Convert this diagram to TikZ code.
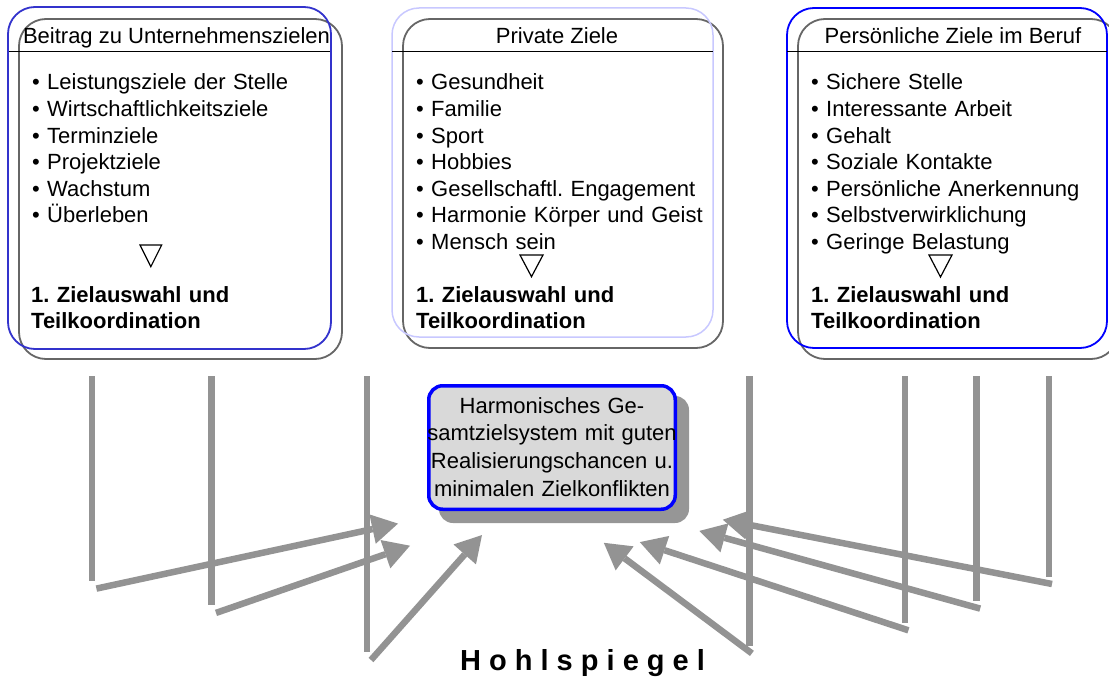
\documentclass[tikz,border=0pt]{standalone}
\usepackage{fontspec}
\setmainfont{Liberation Sans}
\usetikzlibrary{arrows.meta}
\frenchspacing
\definecolor{boxblueA}{RGB}{51,51,204}
\definecolor{boxblueC}{RGB}{0,0,255}
\definecolor{lav}{RGB}{200,200,255}
\definecolor{edgegray}{RGB}{102,102,102}
\definecolor{beamgray}{RGB}{147,147,147}
\definecolor{cfill}{RGB}{217,217,217}
\definecolor{cshadow}{RGB}{150,150,150}
\begin{document}
\begin{tikzpicture}[x=1pt,y=-1pt,
  frame/.style={rounded corners=27pt, inner sep=0pt, outer sep=0pt, line width=1.8pt},
  hdrline/.style={draw=black, line width=1.4pt},
  hdrtext/.style={anchor=base, inner sep=0pt, font=\fontsize{22}{26.6}\selectfont},
  itemlist/.style={anchor=base west, inner sep=0pt, text width=320pt, align=left, font=\fontsize{22}{26.6}\selectfont},
  boldlist/.style={anchor=base west, inner sep=0pt, text width=320pt, align=left, font=\fontsize{22}{26}\selectfont\bfseries},
  tri/.style={draw=black, line width=1.2pt, line join=miter},
  beam/.style={draw=beamgray, line width=6.5pt},
  beamarrow/.style={beam, -{Triangle[length=26pt,width=30pt,line width=0pt]}}
]
\useasboundingbox (0,0) rectangle (1109,677);
\clip (0,0) rectangle (1109,677);

% ---------- Box 1 ----------
\node[frame, draw=edgegray, minimum width=323pt, minimum height=340pt] (b1g) at (180.5,189) {};
\node[frame, draw=boxblueA, minimum width=323pt, minimum height=342pt] (b1) at (169.5,178) {};
\draw[hdrline] (9,51.7) -- (330,51.7);
\node[hdrtext] (h1) at (176.5,43.5) {Beitrag zu Unternehmenszielen};
\node[itemlist] (l1) at (32,90) {• Leistungsziele der Stelle\\• Wirtschaftlichkeitsziele\\• Terminziele\\• Projektziele\\• Wachstum\\• Überleben};
\draw[tri] (140,245) -- (161.7,245) -- (150.85,266.7) -- cycle;
\node[boldlist] (z1) at (31,302) {1. Zielauswahl und\\Teilkoordination};

% ---------- Box 2 ----------
\node[frame, draw=edgegray, minimum width=320pt, minimum height=329pt] (b2g) at (563,183.5) {};
\node[frame, draw=lav, line width=1.5pt, minimum width=321pt, minimum height=329pt] (b2) at (552.5,172.5) {};
\draw[hdrline] (392,51.7) -- (713,51.7);
\node[hdrtext] (h2) at (557,43.5) {Private Ziele};
\node[itemlist] (l2) at (416,90) {• Gesundheit\\• Familie\\• Sport\\• Hobbies\\• Gesellschaftl. Engagement\\• Harmonie Körper und Geist\\• Mensch sein};
\draw[tri] (520,255) -- (543,255) -- (531.5,276.7) -- cycle;
\node[boldlist] (z2) at (416,302) {1. Zielauswahl und\\Teilkoordination};

% ---------- Box 3 ----------
\node[frame, draw=edgegray, minimum width=320pt, minimum height=340pt] (b3g) at (958,189) {};
\node[frame, draw=boxblueC, minimum width=320pt, minimum height=340pt] (b3) at (947,178) {};
\draw[hdrline] (787,51.7) -- (1107,51.7);
\node[hdrtext] (h3) at (953,43.5) {Persönliche Ziele im Beruf};
\node[itemlist] (l3) at (811,90) {• Sichere Stelle\\• Interessante Arbeit\\• Gehalt\\• Soziale Kontakte\\• Persönliche Anerkennung\\• Selbstverwirklichung\\• Geringe Belastung};
\draw[tri] (929,255) -- (952,255) -- (940.5,277) -- cycle;
\node[boldlist] (z3) at (811,302) {1. Zielauswahl und\\Teilkoordination};

% ---------- Centre box ----------
\node[fill=cshadow, rounded corners=14pt, inner sep=0pt, minimum width=250pt, minimum height=127pt] (csh) at (564,459.5) {};
\node[fill=cfill, draw=boxblueC, line width=3.5pt, rounded corners=14pt, inner sep=0pt, minimum width=246.5pt, minimum height=123.5pt] (cbox) at (552,447.5) {};
\node[anchor=base, inner sep=0pt, text width=250pt, align=center, font=\fontsize{22}{27.7}\selectfont] (ctext) at (552,413) {Harmonisches Ge-\\samtzielsystem mit guten\\Realisierungschancen u.\\minimalen Zielkonflikten};

% ---------- Beams ----------
\coordinate (v1t) at (91.8,376);  \coordinate (v1b) at (91.8,581);
\coordinate (v2t) at (211.4,376); \coordinate (v2b) at (211.4,605);
\coordinate (v3t) at (366.8,376); \coordinate (v3b) at (366.8,652);
\coordinate (v4t) at (749.4,376); \coordinate (v4b) at (749.4,646);
\coordinate (v5t) at (905,376);   \coordinate (v5b) at (905,623);
\coordinate (v6t) at (976.7,376); \coordinate (v6b) at (976.7,600.5);
\coordinate (v7t) at (1048.8,376);\coordinate (v7b) at (1048.8,577);
\foreach \i in {1,...,7} { \draw[beam] (v\i t) -- (v\i b); }

\coordinate (a1s) at (96.4,588.6);  \coordinate (a1e) at (398,523.6);
\coordinate (a2s) at (216,612.9);   \coordinate (a2e) at (410,545.7);
\coordinate (a3s) at (371,660);     \coordinate (a3e) at (482,535);
\coordinate (a4s) at (751.9,653.4); \coordinate (a4e) at (603.8,542.8);
\coordinate (a5s) at (908.4,630.3); \coordinate (a5e) at (639.8,542.1);
\coordinate (a6s) at (980.2,608.6); \coordinate (a6e) at (699.4,530.9);
\coordinate (a7s) at (1052,584);    \coordinate (a7e) at (722.8,519.7);
\foreach \i in {1,...,7} { \draw[beamarrow] (a\i s) -- (a\i e); }

% ---------- Caption ----------
\node[anchor=base, inner sep=0pt, font=\fontsize{29}{34}\selectfont\bfseries] (cap) at (582.5,670) {H o h l s p i e g e l};
\end{tikzpicture}
\end{document}
